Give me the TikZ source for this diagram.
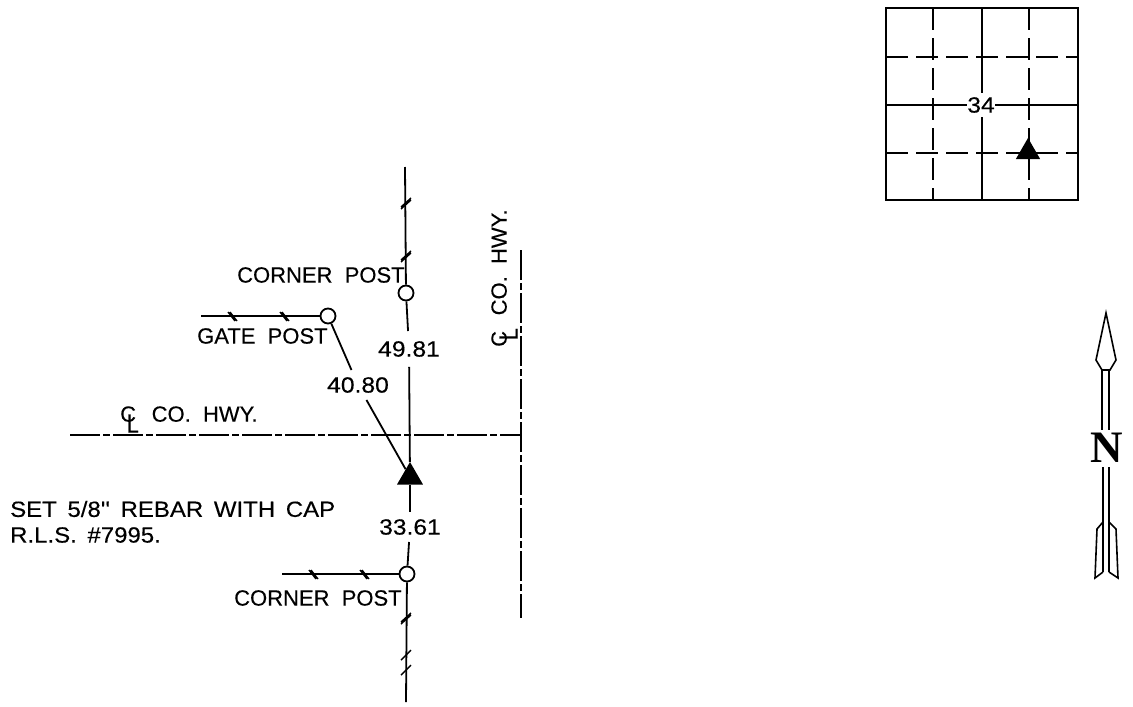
\documentclass[tikz,border=0pt]{standalone}
\usepackage{fontspec}
\setmainfont{Liberation Serif}
\newfontfamily\surveyfont[WordSpace=2,FakeBold=0.3]{Liberation Sans}
\newfontfamily\distfont[FakeStretch=1.12,FakeBold=0.3]{Liberation Sans}
\newfontfamily\notefont[FakeStretch=1.09,WordSpace=1.6,FakeBold=0.3]{Liberation Sans}
\usetikzlibrary{shapes.geometric}
\usetikzlibrary{arrows.meta}

\newcommand{\clmark}{\rlap{C}\raisebox{-11pt}{\hspace{6.5pt}\scalebox{1}[1.2]{L}}\hspace{0.5pt}}

\tikzset{
  survey/.style={font=\surveyfont\fontsize{22}{26}\selectfont, inner sep=0pt, anchor=west},
  note/.style={font=\notefont\fontsize{22}{26}\selectfont, inner sep=0pt, anchor=west},
  dist/.style={font=\distfont\fontsize{22}{26}\selectfont, inner xsep=1pt, inner ysep=7pt},
  post/.style={circle, draw, line width=1.8pt, fill=white, minimum size=15pt, inner sep=0pt},
  rebar/.style={regular polygon, regular polygon sides=3, fill=black, inner sep=0pt},
  fence/.style={line width=1.8pt},
  wiremark/.style={line width=1.4pt},
  center line/.style={line width=1.7pt, dash pattern=on 30pt off 3pt on 7pt off 3pt},
  section/.style={line width=2pt},
  quarter/.style={line width=2pt, dash pattern=on 22pt off 8pt},
  arrowline/.style={line width=1.6pt},
}

\begin{document}
\begin{tikzpicture}[x=1pt,y=-1pt]
\useasboundingbox (0,0) rectangle (1133,707);

% fence ends
\coordinate (topend) at (405,167);
\coordinate (botend) at (406,702);
\coordinate (gateend) at (201,316);
\coordinate (cornerend) at (282,574);

\path
(406,293) node[post] (topcorner) {}
(328,316) node[post] (gatepost) {}
(407,574) node[post] (botcorner) {}
(410,477) node[rebar, minimum size=30pt] (setrebar) {}
(409,349) node[dist, inner ysep=10pt] (dista) {49.81}
(358,385) node[dist] (distb) {40.80}
(410,527) node[dist] (distc) {33.61};

\draw[fence] (topend) -- (topcorner);
\draw[fence] (topcorner) -- (dista);
\draw[fence] (dista) -- (setrebar);
\draw[fence] (setrebar) -- (distc);
\draw[fence] (distc) -- (botcorner);
\draw[fence] (botcorner) -- (botend);
\draw[fence] (gateend) -- (gatepost);
\draw[fence] (cornerend) -- (botcorner);
\draw[fence] (gatepost) -- (distb);
\draw[fence] (distb) -- (setrebar);

% wire marks
\foreach \y in {203,256,618}
   \draw[wiremark] (401,\y+4) -- (411,\y-5) (401,\y+6) -- (411,\y-3);
\foreach \y in {655,670}
   \draw[wiremark] (401,\y+5) -- (411,\y-5);
\foreach \x in {232,284}
   \draw[wiremark] (\x-4,312) -- (\x+3,321) (\x-2,312) -- (\x+5,321);
\foreach \x in {313,364}
   \draw[wiremark] (\x-4,570) -- (\x+3,579) (\x-2,570) -- (\x+5,579);

% road center lines
\coordinate (hwyw) at (70,435);
\coordinate (hwyc) at (521,435);
\coordinate (hwyn) at (521,250);
\coordinate (hwys) at (521,618);
\draw[center line] (hwyw) -- (hwyc);
\draw[center line] (hwyn) -- (hwys);

\path
(237,275) node[survey] (cornertop) {CORNER POST}
(197,336) node[survey] (gatetext) {GATE POST}
(234,598) node[survey] (cornerbot) {CORNER POST}
(120,419.5) node[survey] (hwytexta) {\clmark\ CO. HWY.}
(504.5,347) node[survey, rotate=90] (hwytextb) {\clmark\ CO. HWY.}
(10,509) node[note] (settext) {SET 5/8''\ REBAR WITH CAP}
(10,535) node[note] (rlstext) {R.L.S. \#7995.};

% section 34
\draw[section] (886,8) rectangle (1078,200);
\draw[section] (982,8) -- (982,200);
\draw[section] (886,105) -- (1078,105);
\draw[quarter] (933,8) -- (933,200);
\draw[quarter] (1029,8) -- (1029,200);
\draw[quarter] (886,57) -- (1078,57);
\draw[quarter] (886,153) -- (1078,153);
\path
(981,105) node[font=\distfont\fontsize{22}{26}\selectfont, fill=white, inner xsep=0pt, inner ysep=4pt] (secnum) {34}
(1028,152) node[rebar, minimum size=28pt] (secrebar) {};

% north arrow
\draw[arrowline] (1106,313) -- (1116,360) -- (1110,370) -- (1102,370) -- (1096,360) -- cycle;
\draw[arrowline] (1102,370) -- (1102,430) (1109,370) -- (1109,430);
\draw[arrowline] (1103,467) -- (1103,572) (1109,467) -- (1109,572);
\draw[arrowline] (1103,522) -- (1097,529) -- (1095,578) -- (1103,572);
\draw[arrowline] (1109,522) -- (1116,529) -- (1118,578) -- (1109,572);
\path (1107,448) node[font=\bfseries\fontsize{45}{47}\selectfont, inner sep=0pt] (north) {N};

\end{tikzpicture}
\end{document}
